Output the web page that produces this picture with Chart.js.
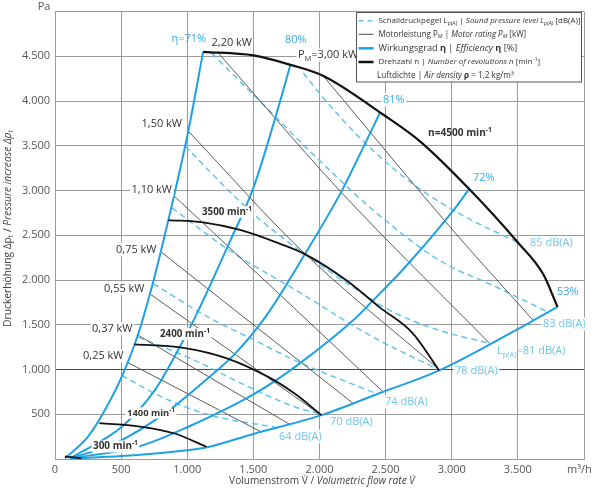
<!DOCTYPE html>
<html><head><meta charset="utf-8">
<script src="https://cdn.jsdelivr.net/npm/chart.js@4.4.0/dist/chart.umd.min.js"></script>
<style>html,body{margin:0;padding:0;background:#fff}#wrap{width:600px;height:490px}</style>
</head><body><div id="wrap"><canvas id="c" width="600" height="490"></canvas></div>
<script>
// ---------- axes ----------
const Q_TICKS = [0,500,1000,1500,2000,2500,3000,3500,4000];
const X_TICK_LABELS = ['0','500','1.000','1.500','2.000','2.500','3.000','3.500',''];
const P_TICKS = [0,500,1000,1500,2000,2500,3000,3500,4000,4500,5000];
const Y_TICK_LABELS = ['','500','1.000','1.500','2.000','2.500','3.000','3.500','4.000','4.500',''];

// ---------- speed curves (Q m³/h, p Pa) ----------
const N4500_Q = [1120,1500,1780,2030,2480,2760,3130,3500,3690,3800];
const N4500_P = [4550,4510,4405,4280,3850,3550,3020,2420,2070,1700];
const N3500_Q = [857,1120,1400,1675,1890,2205,2455,2705,2905];
const N3500_P = [2670,2645,2560,2420,2290,1995,1695,1405,990];
const N2400_Q = [600,960,1310,1615,1815,2015];
const N2400_P = [1280,1245,1120,915,730,490];
const N1400_Q = [335,655,905,1145];
const N1400_P = [400,360,285,137];
const N300_Q = [75,140,200];
const N300_P = [28,18,6];

// ---------- efficiency curves ----------
const E71_Q = [75,250,405,515,630,745,820,857,900,1008,1120];
const E71_P = [8,250,620,955,1400,1995,2440,2670,2940,3665,4550];
const E80_Q = [113,505,755,930,1060,1330,1500,1665,1780];
const E80_P = [6,360,770,1215,1585,2455,3030,3810,4405];
const E81_Q = [113,455,830,1110,1360,1590,1890,2155,2330,2457];
const E81_P = [6,175,510,845,1175,1585,2290,2960,3480,3870];
const E72_Q = [113,630,1008,1510,1815,2255,2380,2645,3000,3133];
const E72_P = [6,137,360,730,1030,1550,1735,2140,2755,3020];
const E53_Q = [113,504,945,1142,1500,2015,2457,2906,3503,3617,3800];
const E53_P = [6,33,89,128,280,490,738,991,1455,1548,1700];

// ---------- motor power lines ----------
const P025_Q = [542,1563];       const P025_P = [1084,300];
const P037_Q = [618,1777];       const P037_P = [1392,385];
const P055_Q = [718,2011];       const P055_P = [1845,490];
const P075_Q = [807,2256];       const P075_P = [2308,620];
const P110_Q = [900,1802,2482];  const P110_P = [2940,1696,749];
const P150_Q = [1008,1853,2911]; const P150_P = [3664,2346,991];
const P220_Q = [1235,2155,3289]; const P220_P = [4536,2996,1288];
const P300_Q = [2029,3012,3617]; const P300_P = [4280,2550,1548];

// ---------- sound pressure lines ----------
const S64_Q = [504,794,1172,1664];             const S64_P = [935,702,490,356];
const S70_Q = [630,1059,1412,1815,2019];       const S70_P = [1362,1102,843,582,501];
const S74_Q = [743,1159,1512,1815,2442];       const S74_P = [1960,1585,1325,1102,724];
const S78_Q = [885,1323,1828,2382,2911];       const S78_P = [2806,2327,1882,1381,991];
const S81_Q = [983,1474,1853,2306,2533,2900,3289];  const S81_P = [3497,2773,2327,1870,1660,1440,1292];
const S83_Q = [1185,1550,2004,2457,2911,3340,3718]; const S83_P = [4536,3998,3330,2717,2216,1920,1648];
const S85_Q = [1878,2029,2331,2709,3113,3503]; const S85_P = [4313,4035,3552,3070,2698,2420];

// ---------- styling ----------
const FONT = "'Open Sans', 'DejaVu Sans', sans-serif";
const BLUE = '#1ea1e4', BLUE_T = '#3aabe6', DASH = '#62c4ef', DB_T = '#6cc6ee', GREY = '#4a4a4a', TXT = '#333';

function pts(Q,P){ return Q.map((q,i)=>({x:q,y:P[i]})); }
const datasets = [];
function add(Q,P,kind){
  const st = {
    speed:{borderColor:'#111',borderWidth:1.8,order:0},
    speedMax:{borderColor:'#111',borderWidth:2.2,order:0},
    eff:{borderColor:BLUE,borderWidth:2,order:1},
    power:{borderColor:GREY,borderWidth:0.9,order:2},
    sound:{borderColor:DASH,borderWidth:1.5,borderDash:[6,4],order:3}
  }[kind];
  datasets.push(Object.assign({data:pts(Q,P),showLine:true,pointRadius:0,cubicInterpolationMode:'monotone',fill:false},st));
}
add(N4500_Q,N4500_P,'speedMax'); add(N3500_Q,N3500_P,'speed'); add(N2400_Q,N2400_P,'speed');
add(N1400_Q,N1400_P,'speed'); add(N300_Q,N300_P,'speed');
add(E71_Q,E71_P,'eff'); add(E80_Q,E80_P,'eff'); add(E81_Q,E81_P,'eff'); add(E72_Q,E72_P,'eff'); add(E53_Q,E53_P,'eff');
add(P025_Q,P025_P,'power'); add(P037_Q,P037_P,'power'); add(P055_Q,P055_P,'power'); add(P075_Q,P075_P,'power');
add(P110_Q,P110_P,'power'); add(P150_Q,P150_P,'power'); add(P220_Q,P220_P,'power'); add(P300_Q,P300_P,'power');
add(S64_Q,S64_P,'sound'); add(S70_Q,S70_P,'sound'); add(S74_Q,S74_P,'sound'); add(S78_Q,S78_P,'sound');
add(S81_Q,S81_P,'sound'); add(S83_Q,S83_P,'sound'); add(S85_Q,S85_P,'sound');

// ---------- rich text helpers ----------
function fontStr(s,size,bold){ return (s.it?'italic ':'')+((s.b||bold)?'bold ':'')+size+'px '+FONT; }
function segSize(s,size){ return (s.sub||s.sup)? size*0.68 : size; }
function measureRich(ctx,segs,size,bold){ let w=0; for(const s of segs){ ctx.font=fontStr(s,segSize(s,size),bold); w+=ctx.measureText(s.t).width; } return w; }
function drawRich(ctx,segs,x,y,o){
  let size=o.size||11; const bold=!!o.bold;
  if(o.w){ size = size*o.w/measureRich(ctx,segs,size,bold); }
  const w = measureRich(ctx,segs,size,bold);
  let cx = o.align==='center'? x-w/2 : (o.align==='right'? x-w : x);
  if(o.bg){ ctx.fillStyle='#fff'; ctx.fillRect(cx-1.5,y-size*0.6,w+3,size*1.2); }
  ctx.textAlign='left'; ctx.textBaseline='middle'; ctx.fillStyle=o.color||TXT;
  for(const s of segs){
    const fs=segSize(s,size); ctx.font=fontStr(s,fs,bold);
    const dy = s.sub? size*0.32 : (s.sup? -size*0.33 : 0);
    ctx.fillText(s.t,cx,y+dy); cx+=ctx.measureText(s.t).width;
  }
}
const T = t=>({t});
const LABELS = [
  {segs:[T('η=71%')], x:171.5, y:38.5, color:BLUE_T},
  {segs:[T('2,20 kW')], x:211.5, y:42.5},
  {segs:[T('80%')], x:285, y:40, color:BLUE_T},
  {segs:[T('P'),{t:'M',sub:1},T('=3,00 kW')], x:298, y:55, bg:1},
  {segs:[T('81%')], x:383, y:99.5, color:BLUE_T, bg:1},
  {segs:[T('n=4500 min'),{t:'-1',sup:1}], x:428, y:133, bold:1, w:64},
  {segs:[T('72%')], x:473, y:178, color:BLUE_T},
  {segs:[T('85 dB(A)')], x:530, y:243, color:DB_T, bg:1},
  {segs:[T('53%')], x:557, y:292, color:BLUE_T},
  {segs:[T('83 dB(A)')], x:543, y:324, color:DB_T, bg:1},
  {segs:[T('L'),{t:'p(A)',sub:1},T('=81 dB(A)')], x:497, y:351, color:DB_T},
  {segs:[T('78 dB(A)')], x:455, y:371, color:DB_T, bg:1},
  {segs:[T('74 dB(A)')], x:385, y:402, color:DB_T, bg:1},
  {segs:[T('70 dB(A)')], x:330, y:421.5, color:DB_T, bg:1},
  {segs:[T('64 dB(A)')], x:279, y:436.5, color:DB_T, bg:1},
  {segs:[T('3500 min'),{t:'-1',sup:1}], x:202, y:212, bold:1, w:50, bg:1},
  {segs:[T('2400 min'),{t:'-1',sup:1}], x:160, y:334, bold:1, w:50, bg:1},
  {segs:[T('1400 min'),{t:'-1',sup:1}], x:127, y:413, bold:1, w:48, bg:1},
  {segs:[T('300 min'),{t:'-1',sup:1}], x:93, y:446.5, bold:1, w:45, bg:1},
  {segs:[T('1,50 kW')], x:141.5, y:123.5, bg:1},
  {segs:[T('1,10 kW')], x:131.5, y:190, bg:1},
  {segs:[T('0,75 kW')], x:116, y:249.5, bg:1},
  {segs:[T('0,55 kW')], x:104, y:288.5, bg:1},
  {segs:[T('0,37 kW')], x:92, y:328.5, bg:1},
  {segs:[T('0,25 kW')], x:83, y:356, bg:1}
];
const LEGEND_ROWS = [
  {segs:[T('Schalldruckpegel L'),{t:'p(A)',sub:1},T(' | '),{t:'Sound pressure level L',it:1},{t:'p(A)',sub:1,it:1},T(' [dB(A)]')], w:202, line:'dash'},
  {segs:[T('Motorleistung P'),{t:'M',sub:1},T(' | '),{t:'Motor rating P',it:1},{t:'M',sub:1,it:1},T(' [kW]')], w:148, line:'power'},
  {segs:[T('Wirkungsgrad '),{t:'η',b:1},T(' | '),{t:'Efficiency ',it:1},{t:'η',b:1},T(' [%]')], w:139, line:'eff'},
  {segs:[T('Drehzahl n | '),{t:'Number of revolutions n',it:1},T(' [min'),{t:'-1',sup:1},T(']')], w:162, line:'speed'},
  {segs:[T('Luftdichte | '),{t:'Air density ',it:1},{t:'ρ',b:1},T(' = 1,2 kg/m³')], w:137, line:null}
];

const annot = {
  id:'annot',
  afterDraw(chart){
    const ctx = chart.ctx; ctx.save();
    for(const L of LABELS) drawRich(ctx,L.segs,L.x,L.y,{size:11,color:L.color||TXT,bold:L.bold,w:L.w,bg:L.bg});
    drawRich(ctx,[T('Pa')],44,7,{size:11,color:'#555',align:'center'});
    drawRich(ctx,[T('m³/h')],567,470,{size:11,color:'#555'});
    drawRich(ctx,[T('Volumenstrom V\u0307 / '),{t:'Volumetric flow rate V\u0307',it:1}],322,481.5,{size:11,color:'#444',align:'center',w:186});
    ctx.save(); ctx.translate(8,228.5); ctx.rotate(-Math.PI/2);
    drawRich(ctx,[T('Druckerhöhung Δp'),{t:'t',sub:1},T(' / '),{t:'Pressure increase Δp',it:1},{t:'t',sub:1,it:1}],0,0,{size:11,color:'#444',align:'center',w:197});
    ctx.restore();
    ctx.fillStyle='#fff'; ctx.fillRect(356,12.5,226,69.5);
    ctx.strokeStyle='#555'; ctx.lineWidth=1; ctx.strokeRect(356.5,12.5,225,69.5);
    const rowsY=[20.7,34.3,48.3,62,76];
    LEGEND_ROWS.forEach((r,i)=>{
      const y=rowsY[i];
      if(r.line){
        ctx.beginPath(); ctx.moveTo(358.5,y); ctx.lineTo(373.5,y);
        if(r.line==='dash'){ctx.strokeStyle=DASH;ctx.lineWidth=1.6;ctx.setLineDash([5,4]);}
        else if(r.line==='power'){ctx.strokeStyle=GREY;ctx.lineWidth=1;ctx.setLineDash([]);}
        else if(r.line==='eff'){ctx.strokeStyle=BLUE;ctx.lineWidth=2.5;ctx.setLineDash([]);}
        else {ctx.strokeStyle='#111';ctx.lineWidth=2.5;ctx.setLineDash([]);}
        ctx.stroke(); ctx.setLineDash([]);
      }
      drawRich(ctx,r.segs,r.line?378.5:377,y,{size:9,color:TXT,w:r.w});
    });
    ctx.restore();
  }
};

new Chart(document.getElementById('c').getContext('2d'),{
  type:'scatter',
  data:{datasets},
  options:{
    responsive:false, animation:false, events:[],
    layout:{padding:{top:10,right:16,left:0,bottom:0}},
    plugins:{legend:{display:false},tooltip:{enabled:false}},
    scales:{
      x:{type:'linear',min:0,max:4000,
        afterFit(s){s.height=31;},
        afterBuildTicks(s){s.ticks=Q_TICKS.map(v=>({value:v}));},
        ticks:{padding:4,color:'#555',autoSkip:false,maxRotation:0,font:{size:11,family:FONT},callback:(v,i)=>X_TICK_LABELS[i]},
        grid:{color:'#9a9a9a',lineWidth:1,drawTicks:false},
        border:{color:'#9a9a9a'}},
      y:{type:'linear',min:0,max:5000,
        afterFit(s){s.width=55;},
        afterBuildTicks(s){s.ticks=P_TICKS.map(v=>({value:v}));},
        ticks:{padding:5,color:'#555',autoSkip:false,font:{size:11,family:FONT},callback:(v,i)=>Y_TICK_LABELS[i]},
        grid:{color:c=>(c.tick&&c.tick.value===1000)?'#4a4a4a':'#9a9a9a',lineWidth:1,drawTicks:false},
        border:{color:'#9a9a9a'}}
    }
  },
  plugins:[annot]
});
</script></body></html>
